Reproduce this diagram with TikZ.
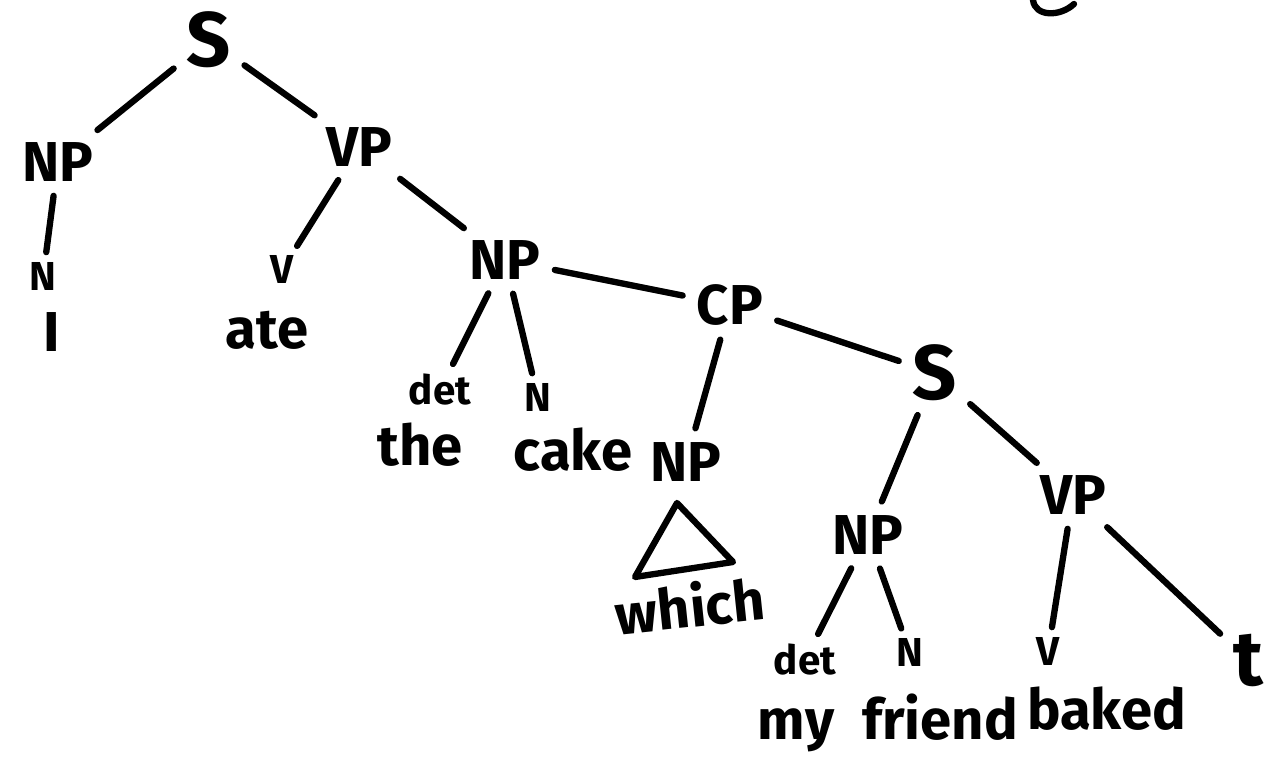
\documentclass[tikz,border=0pt]{standalone}
\usepackage{fontspec}
\setmainfont{Fira Sans}
\usetikzlibrary{calc}

\tikzset{
  cat/.style={font=\fontsize{32}{34}\selectfont\bfseries, inner sep=5pt},
  big/.style={font=\fontsize{44}{46}\selectfont\bfseries, inner sep=5pt},
  tag/.style={font=\fontsize{23}{25}\selectfont\bfseries, inner sep=3pt},
  word/.style={font=\fontsize{32}{34}\selectfont\bfseries, inner sep=2pt},
  branch/.style={line width=3.6pt, line cap=round, shorten <=3pt, shorten >=3pt},
}

\begin{document}
\begin{tikzpicture}

  \useasboundingbox (0,0) rectangle (25.42,15.56);

  \coordinate (S)    at (+4.18, +14.76);
  \coordinate (NP)   at (+1.16, +12.32);
  \coordinate (VP)   at (+7.18, +12.62);
  \coordinate (N)    at (+0.86, +10.02);
  \coordinate (I)    at (+1.04, +8.92);
  \coordinate (V)    at (+5.64, +10.16);
  \coordinate (ATE)  at (+5.34, +8.96);
  \coordinate (NPB)  at (+10.10, +10.36);
  \coordinate (CP)   at (+14.60, +9.46);
  \coordinate (DET)  at (+8.80, +7.76);
  \coordinate (NB)   at (+10.76, +7.60);
  \coordinate (THE)  at (+8.40, +6.66);
  \coordinate (CAKE) at (+11.46, +6.56);
  \coordinate (NPC)  at (+13.72, +6.32);
  \coordinate (SB)   at (+18.70, +8.10);
  \coordinate (NPD)  at (+17.36, +4.86);
  \coordinate (VPB)  at (+21.46, +5.66);
  \coordinate (DETB) at (+16.10, +2.36);
  \coordinate (NC)   at (+18.20, +2.50);
  \coordinate (VB)   at (+20.96, +2.52);
  \coordinate (MY)   at (+15.92, +0.76);
  \coordinate (FR)   at (+18.80, +0.76);
  \coordinate (BK)   at (+22.13, +0.96);
  \coordinate (T)    at (+24.96, +2.36);
  \coordinate (WH)   at (+13.80, +3.46);

  \node[big] (s) at (S) {S};
  \node[cat] (np) at (NP) {NP};
  \node[cat] (vp) at (VP) {VP};
  \node[tag] (n) at (N) {N};
  \node[word] (i) at (I) {I};
  \node[tag] (v) at (V) {V};
  \node[word] (ate) at (ATE) {ate};
  \node[cat] (npb) at (NPB) {NP};
  \node[cat] (cp) at (CP) {CP};
  \node[tag] (det) at (DET) {det};
  \node[tag] (nb) at (NB) {N};
  \node[word] (the) at (THE) {the};
  \node[word] (cake) at (CAKE) {cake};
  \node[cat] (npc) at (NPC) {NP};
  \node[word, rotate=6] (which) at (WH) {which};
  \node[big] (sb) at (SB) {S};
  \node[cat] (npd) at (NPD) {NP};
  \node[cat] (vpb) at (VPB) {VP};
  \node[tag] (detb) at (DETB) {det};
  \node[tag] (nc) at (NC) {N};
  \node[tag] (vb) at (VB) {V};
  \node[word, anchor=base] (my) at (MY) {my};
  \node[word, anchor=base] (friend) at (FR) {friend};
  \node[word, anchor=base] (baked) at (BK) {baked};
  \node[big] (t) at (T) {t};

  \draw[branch] (s) -- (np);
  \draw[branch] (s) -- (vp);
  \draw[branch] (np) -- (n);
  \draw[branch] (vp) -- (v);
  \draw[branch] (vp) -- (npb);
  \draw[branch] (npb) -- (det);
  \draw[branch] (npb) -- (nb);
  \draw[branch] (npb) -- (cp);
  \draw[branch] (cp) -- (npc);
  \draw[branch] (cp) -- (sb);
  \draw[branch] (sb) -- (npd);
  \draw[branch] (sb) -- (vpb);
  \draw[branch] (npd) -- (detb);
  \draw[branch] (npd) -- (nc);
  \draw[branch] (vpb) -- (vb);
  \draw[branch] (vpb) -- (t);

  % roof over which
  \draw[line width=3.6pt, line join=round] (+13.54, +5.50) -- (+12.70, +4.02) -- (+14.66, +4.32) -- cycle;
  % stray stroke at the top edge
  \draw[line width=3.6pt, line cap=round] (+20.66, +15.56) .. controls (+20.70, +15.22) and (+21.20, +15.22) .. (+21.48, +15.48);

\end{tikzpicture}
\end{document}
